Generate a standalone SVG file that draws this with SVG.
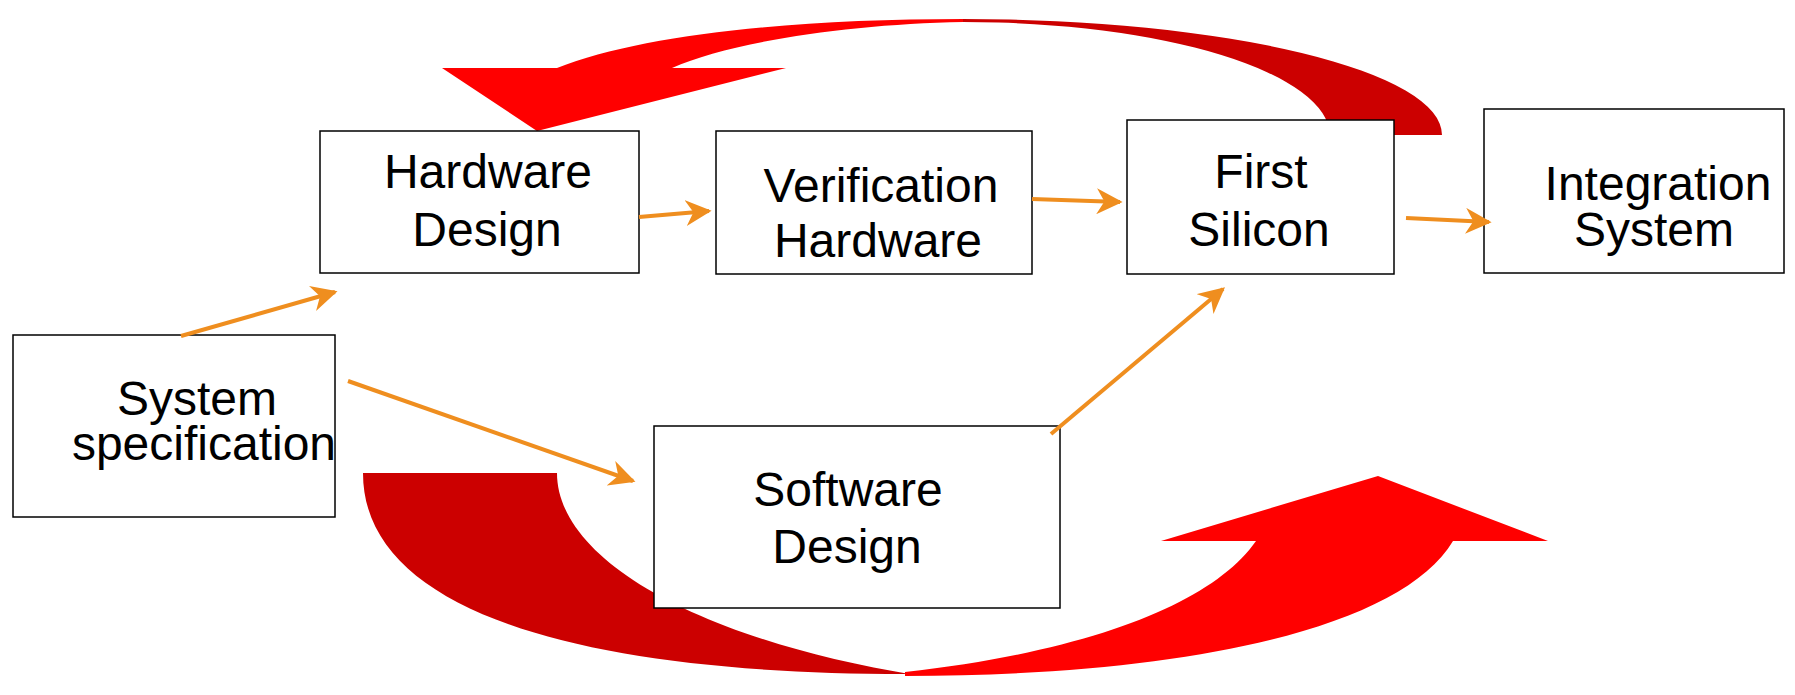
<svg xmlns="http://www.w3.org/2000/svg" width="1795" height="695" viewBox="0 0 1795 695">
<style>
.box{fill:#fff;stroke:#000;stroke-width:1.5}
.t{font-family:"Liberation Sans",Arial,sans-serif;font-size:48px;fill:#000;text-anchor:middle}
.c{fill:none;stroke:#EF8E1F;stroke-width:4}
.bright{fill:#FF0000}
.dark{fill:#CC0000}
</style>
<defs>
<marker id="ah" viewBox="0 0 10 10" refX="9" refY="5" markerWidth="6.5" markerHeight="6.5" markerUnits="strokeWidth" orient="auto">
<path d="M0,0 L10,5 L0,10 L3,5 Z" fill="#EF8E1F"/>
</marker>
</defs>
<rect width="1795" height="695" fill="#fff"/>
<g id="loops">
<path class="dark" d="M963,19 A479,116 0 0 1 1442,135 L1330,135 A367,114 0 0 0 963,22 Z"/>
<path class="bright" d="M442,68 L557,68 C640,35 790,19 963,19 L963,22 C850,24 730,42 672,68 L786,68 L537,131 Z"/>
<path class="dark" d="M363,473 L557,473 C557,560 700,640 915,675 L905,674 C590,674 363,615 363,473 Z"/>
<path class="bright" d="M905,676 C1180,676 1400,630 1453,541 L1548,541 L1378,476 L1161,541 L1256,541 C1215,600 1100,650 905,672 Z"/>
</g>
<g id="sysspec"><rect class="box" x="13" y="335" width="322" height="182"/>
<text class="t" x="197" y="415">System</text><text class="t" x="204" y="460">specification</text></g>
<g id="hwdesign"><rect class="box" x="320" y="131" width="319" height="142"/>
<text class="t" x="488" y="188">Hardware</text><text class="t" x="487" y="246">Design</text></g>
<g id="verif"><rect class="box" x="716" y="131" width="316" height="143"/>
<text class="t" x="881" y="202">Verification</text><text class="t" x="878" y="257">Hardware</text></g>
<g id="firstsi"><rect class="box" x="1127" y="120" width="267" height="154"/>
<text class="t" x="1261" y="188">First</text><text class="t" x="1259" y="246">Silicon</text></g>
<g id="integ"><rect class="box" x="1484" y="109" width="300" height="164"/>
<text class="t" x="1658" y="200">Integration</text><text class="t" x="1654" y="246">System</text></g>
<g id="swdesign"><rect class="box" x="654" y="426" width="406" height="182"/>
<text class="t" x="848" y="506">Software</text><text class="t" x="847" y="563">Design</text></g>
<g id="connectors">
<line class="c" x1="181" y1="336" x2="335" y2="292" marker-end="url(#ah)"/>
<line class="c" x1="639" y1="217" x2="709" y2="211" marker-end="url(#ah)"/>
<line class="c" x1="1032" y1="199" x2="1120" y2="202" marker-end="url(#ah)"/>
<line class="c" x1="1406" y1="218" x2="1489" y2="222" marker-end="url(#ah)"/>
<line class="c" x1="348" y1="381" x2="633" y2="481" marker-end="url(#ah)"/>
<line class="c" x1="1051" y1="434" x2="1223" y2="289" marker-end="url(#ah)"/>
</g>
</svg>
